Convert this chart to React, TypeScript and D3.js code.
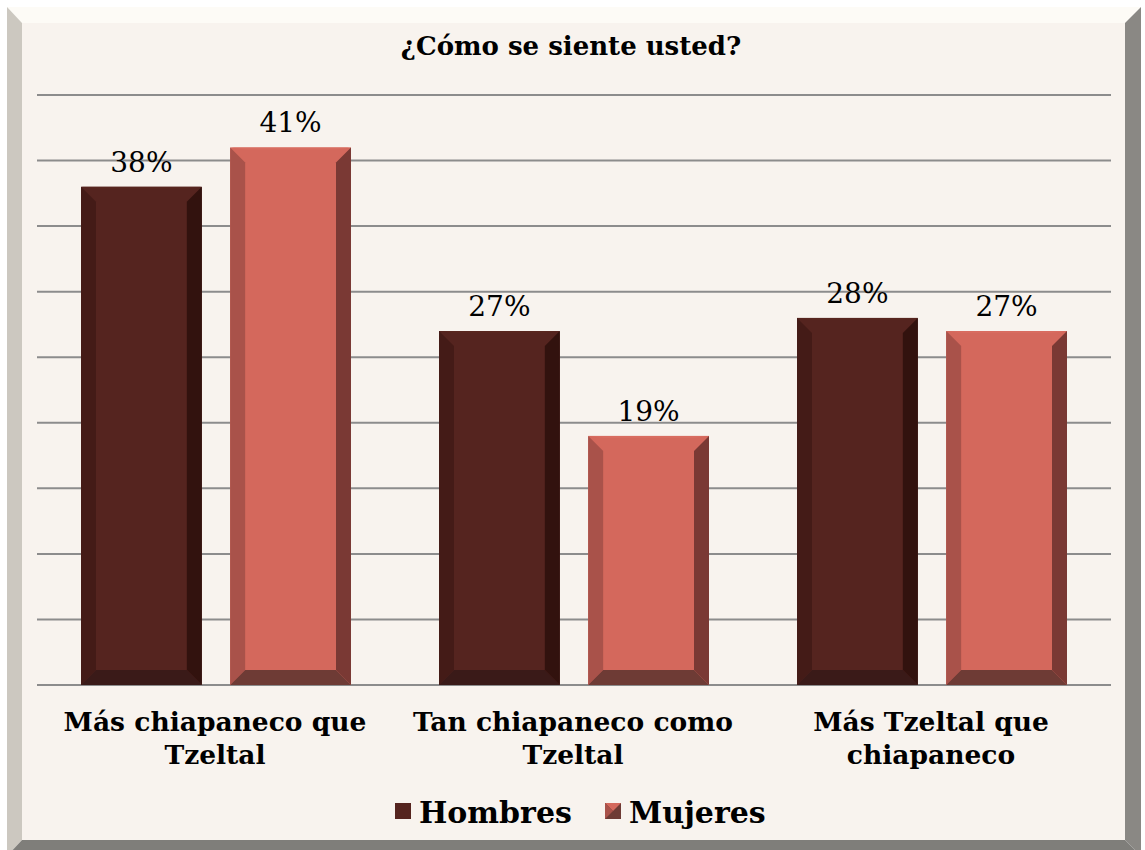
import React from "react";
import * as d3 from "d3";

const categories = [
  ["Más chiapaneco que", "Tzeltal"],
  ["Tan chiapaneco como", "Tzeltal"],
  ["Más Tzeltal que", "chiapaneco"],
];
const seriesNames = ["Hombres", "Mujeres"];
const hombres = [38, 27, 28];
const mujeres = [41, 19, 27];
const yTicks = [0, 5, 10, 15, 20, 25, 30, 35, 40, 45];

const W = 1145;
const H = 850;
const FONT = "'DejaVu Serif', 'Liberation Serif', serif";

// face, left, right, bottom, top bevel
const palette = [
  { face: "#55241f", left: "#441b17", right: "#32120e", bottom: "#3a1a18", top: "#58261f" },
  { face: "#d4685c", left: "#a9524a", right: "#7a3934", bottom: "#6e3b35", top: "#d86c60" },
];

const Bar = ({ x, y, w, h, c }) => {
  const b = Math.min(15, h / 2);
  const t = 2;
  return (
    <g>
      <rect x={x} y={y} width={w} height={h} fill={c.face} />
      <polygon points={`${x},${y} ${x + w},${y} ${x + w - b},${y + t} ${x + b},${y + t}`} fill={c.top} />
      <polygon points={`${x},${y} ${x + b},${y + t + b - 2} ${x + b},${y + h - b} ${x},${y + h}`} fill={c.left} />
      <polygon points={`${x + w},${y} ${x + w - b},${y + t + b - 2} ${x + w - b},${y + h - b} ${x + w},${y + h}`} fill={c.right} />
      <polygon points={`${x},${y + h} ${x + b},${y + h - b} ${x + w - b},${y + h - b} ${x + w},${y + h}`} fill={c.bottom} />
    </g>
  );
};

export default function App() {
  const x0 = d3.scaleBand().domain(d3.range(categories.length)).range([37, 1111]).paddingInner(0).paddingOuter(0);
  const x1 = d3.scaleBand().domain(seriesNames).range([44, x0.bandwidth() - 44]).paddingInner(0.19);
  const y = d3.scaleLinear().domain([0, 45]).range([685, 95]);
  const values = [hombres, mujeres];

  return (
    <svg width={W} height={H} style={{ position: "absolute", left: 0, top: 0 }}>
      {/* frame bevels */}
      <rect x={0} y={0} width={W} height={H} fill="#ffffff" />
      <polygon points="7,7 1141,7 1125,23 22,23" fill="#fdfbf6" />
      <polygon points="7,7 22,23 22,840 7,856" fill="#ccc8c0" />
      <polygon points="1141,7 1141,856 1125,840 1125,23" fill="#8a8884" />
      <polygon points="7,856 22,840 1125,840 1141,856" fill="#7f7e7a" />
      <rect x={22} y={23} width={1103} height={817} fill="#f8f3ee" />

      <text x={571} y={55} textAnchor="middle" fontFamily={FONT} fontWeight="bold" fontSize={26}>
        ¿Cómo se siente usted?
      </text>

      {yTicks.map((t) => (
        <line key={t} x1={37} x2={1111} y1={y(t)} y2={y(t)} stroke="#8c8c8c" strokeWidth={2} />
      ))}

      {categories.map((cat, i) => (
        <g key={i} transform={`translate(${x0(i)},0)`}>
          {seriesNames.map((s, j) => {
            const v = values[j][i];
            const bx = x1(s);
            return (
              <g key={s}>
                <Bar x={bx} y={y(v)} w={x1.bandwidth()} h={y(0) - y(v)} c={palette[j]} />
                <text x={bx + x1.bandwidth() / 2} y={y(v) - 15} textAnchor="middle" fontFamily={FONT} fontSize={28}>
                  {v}%
                </text>
              </g>
            );
          })}
          {cat.map((line, k) => (
            <text key={k} x={x0.bandwidth() / 2 - 1} y={731 + k * 33} textAnchor="middle" fontFamily={FONT} fontWeight="bold" fontSize={26.5}>
              {line}
            </text>
          ))}
        </g>
      ))}

      {/* legend */}
      <rect x={395} y={803} width={16} height={16} fill={palette[0].face} />
      <text x={419} y={823} fontFamily={FONT} fontWeight="bold" fontSize={30}>{seriesNames[0]}</text>
      <g>
        <rect x={605} y={803} width={16} height={16} fill={palette[1].bottom} />
        <polygon points="605,803 621,803 613,811" fill={palette[1].face} />
        <polygon points="605,803 613,811 605,819" fill={palette[1].left} />
      </g>
      <text x={629} y={823} fontFamily={FONT} fontWeight="bold" fontSize={30}>{seriesNames[1]}</text>
    </svg>
  );
}
